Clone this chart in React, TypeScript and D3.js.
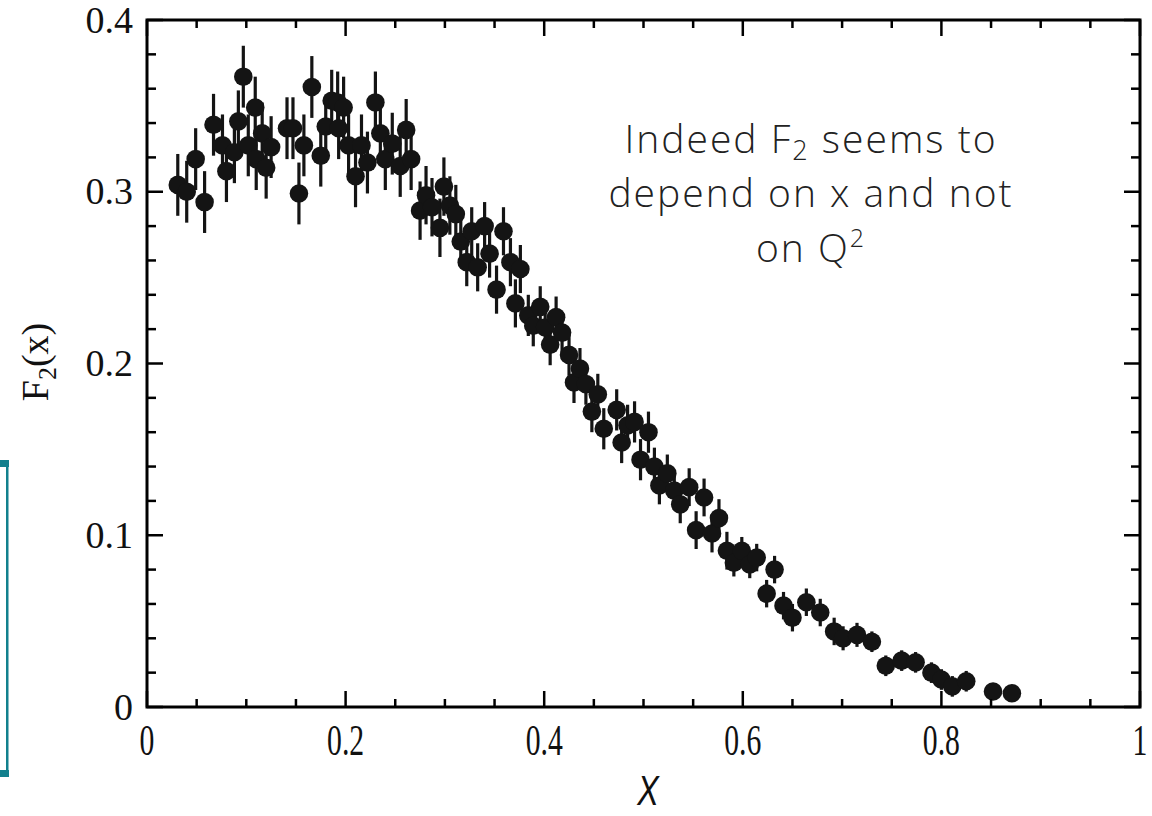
import React from "react";
import * as d3 from "d3";

const xValues = [
  0.031, 0.040, 0.049, 0.058, 0.067, 0.076, 0.080, 0.088, 0.092, 0.097, 0.102, 0.109, 0.110, 0.116, 0.120, 0.125,
  0.141, 0.147, 0.153, 0.158, 0.166, 0.175, 0.180, 0.186, 0.192, 0.193, 0.198, 0.203, 0.210, 0.216, 0.222, 0.230,
  0.235, 0.240, 0.247, 0.255, 0.261, 0.266,
  0.275, 0.281, 0.287, 0.295, 0.299, 0.305, 0.311,
  0.316, 0.322, 0.327, 0.333, 0.340, 0.345, 0.352, 0.359, 0.366, 0.371, 0.376,
  0.384, 0.389, 0.396, 0.401, 0.406, 0.412, 0.418, 0.425, 0.430, 0.436, 0.442, 0.448, 0.454, 0.460, 0.473, 0.478,
  0.484, 0.491, 0.497, 0.505,
  0.511, 0.516, 0.524, 0.531, 0.537, 0.546, 0.553, 0.561, 0.569, 0.576, 0.584,
  0.591, 0.599, 0.607, 0.614, 0.632, 0.624, 0.641, 0.650, 0.664, 0.678, 0.692, 0.701, 0.715,
  0.730, 0.744, 0.760, 0.774, 0.790, 0.800, 0.811, 0.825,
  0.852, 0.871,
];

const f2Values = [
  0.304, 0.300, 0.319, 0.294, 0.339, 0.327, 0.312, 0.323, 0.341, 0.367, 0.327, 0.349, 0.319, 0.334, 0.314, 0.326,
  0.337, 0.337, 0.299, 0.327, 0.361, 0.321, 0.338, 0.353, 0.352, 0.337, 0.349, 0.327, 0.309, 0.327, 0.317, 0.352,
  0.334, 0.319, 0.328, 0.315, 0.336, 0.319,
  0.289, 0.298, 0.291, 0.279, 0.303, 0.292, 0.287,
  0.271, 0.259, 0.277, 0.256, 0.280, 0.264, 0.243, 0.277, 0.259, 0.235, 0.255,
  0.228, 0.222, 0.233, 0.221, 0.211, 0.227, 0.218, 0.205, 0.189, 0.197, 0.188, 0.172, 0.182, 0.162, 0.173, 0.154,
  0.164, 0.166, 0.144, 0.160,
  0.140, 0.129, 0.136, 0.126, 0.118, 0.128, 0.103, 0.122, 0.101, 0.110, 0.091,
  0.084, 0.091, 0.083, 0.087, 0.080, 0.066, 0.059, 0.052, 0.061, 0.055, 0.044, 0.040, 0.042,
  0.038, 0.024, 0.027, 0.026, 0.020, 0.016, 0.012, 0.015,
  0.009, 0.008,
];

const f2Errors = [
  0.018, 0.018, 0.018, 0.018, 0.018, 0.018, 0.018, 0.018, 0.018, 0.018, 0.018, 0.018, 0.018, 0.018, 0.018, 0.018,
  0.018, 0.018, 0.018, 0.018, 0.018, 0.018, 0.018, 0.018, 0.018, 0.018, 0.018, 0.018, 0.018, 0.018, 0.018, 0.018,
  0.018, 0.018, 0.018, 0.018, 0.018, 0.018,
  0.017, 0.017, 0.017, 0.017, 0.017, 0.017, 0.017,
  0.014, 0.014, 0.014, 0.014, 0.014, 0.014, 0.014, 0.014, 0.014, 0.014, 0.014,
  0.012, 0.012, 0.012, 0.012, 0.012, 0.012, 0.012, 0.012, 0.012, 0.012, 0.012, 0.012, 0.012, 0.012, 0.012, 0.012,
  0.012, 0.012, 0.012, 0.012,
  0.011, 0.011, 0.011, 0.011, 0.011, 0.011, 0.011, 0.011, 0.011, 0.011, 0.011,
  0.008, 0.008, 0.008, 0.008, 0.008, 0.008, 0.008, 0.008, 0.008, 0.008, 0.008, 0.007, 0.007,
  0.006, 0.006, 0.006, 0.006, 0.006, 0.006, 0.006, 0.006,
  0.004, 0.004,
];

const xMajorTicks = [0, 0.2, 0.4, 0.6, 0.8, 1];
const xTickLabels = ["0", "0.2", "0.4", "0.6", "0.8", "1"];
const yMajorTicks = [0, 0.1, 0.2, 0.3, 0.4];
const yTickLabels = ["0", "0.1", "0.2", "0.3", "0.4"];

const W = 1152;
const H = 816;

export default function App() {
  const x = d3.scaleLinear().domain([0, 1]).range([147, 1140]);
  const y = d3.scaleLinear().domain([0, 0.4]).range([707, 20]);
  const xMinor = d3.range(0, 1.0001, 0.05).filter((v) => Math.abs(v / 0.2 - Math.round(v / 0.2)) > 1e-6);
  const yMinor = d3.range(0, 0.4001, 0.02).filter((v) => Math.abs(v / 0.1 - Math.round(v / 0.1)) > 1e-6);
  const [x0, x1] = x.range();
  const [y0, y1] = y.range();
  const ink = "#141414";
  const serif = "'Liberation Serif', 'Times New Roman', serif";
  const sans = "'Open Sans', 'Liberation Sans', sans-serif";

  return (
    <div style={{ position: "absolute", left: 0, top: 0, width: W, height: H, background: "#fff" }}>
      <svg width={W} height={H} viewBox={`0 0 ${W} ${H}`} style={{ display: "block" }}>
        <rect x={0} y={0} width={W} height={H} fill="#fff" />
        {/* teal box edge */}
        <g fill="#12808d">
          <rect x={0} y={460} width={9} height={7} />
          <rect x={6} y={460} width={2.5} height={317} />
          <rect x={0} y={770} width={9} height={7} />
        </g>

        {/* data: error bars */}
        <g stroke={ink} strokeWidth={3.2}>
          {xValues.map((xv, i) => (
            <line
              key={"e" + i}
              x1={x(xv)}
              x2={x(xv)}
              y1={y(f2Values[i] - f2Errors[i])}
              y2={y(f2Values[i] + f2Errors[i])}
            />
          ))}
        </g>
        <g fill={ink}>
          {xValues.map((xv, i) => (
            <circle key={"p" + i} cx={x(xv)} cy={y(f2Values[i])} r={9.3} />
          ))}
        </g>

        {/* frame */}
        <rect x={x0} y={y1} width={x1 - x0} height={y0 - y1} fill="none" stroke="#000" strokeWidth={3} />

        {/* ticks */}
        <g stroke="#000" strokeWidth={2.5}>
          {xMajorTicks.map((v) => (
            <g key={"xM" + v}>
              <line x1={x(v)} x2={x(v)} y1={y0} y2={y0 - 16} />
              <line x1={x(v)} x2={x(v)} y1={y1} y2={y1 + 16} />
            </g>
          ))}
          {xMinor.map((v) => (
            <g key={"xm" + v}>
              <line x1={x(v)} x2={x(v)} y1={y0} y2={y0 - 8} />
              <line x1={x(v)} x2={x(v)} y1={y1} y2={y1 + 8} />
            </g>
          ))}
          {yMajorTicks.map((v) => (
            <g key={"yM" + v}>
              <line x1={x0} x2={x0 + 16} y1={y(v)} y2={y(v)} />
              <line x1={x1} x2={x1 - 16} y1={y(v)} y2={y(v)} />
            </g>
          ))}
          {yMinor.map((v) => (
            <g key={"ym" + v}>
              <line x1={x0} x2={x0 + 9} y1={y(v)} y2={y(v)} />
              <line x1={x1} x2={x1 - 9} y1={y(v)} y2={y(v)} />
            </g>
          ))}
        </g>

        {/* y tick labels */}
        <g fontFamily={serif} fontSize={38} fill="#111" textAnchor="end">
          {yMajorTicks.map((v, i) => (
            <text key={"yl" + v} x={133} y={y(v)} dy="0.33em">
              {yTickLabels[i]}
            </text>
          ))}
        </g>
        {/* x tick labels (condensed) */}
        <g fontFamily={serif} fontSize={45} fill="#111" textAnchor="middle">
          {xMajorTicks.map((v, i) => (
            <text key={"xl" + v} transform={`translate(${x(v)},755) scale(0.66,1)`}>
              {xTickLabels[i]}
            </text>
          ))}
        </g>

        {/* axis titles */}
        <text
          transform="translate(648,805) scale(0.85,1.1)"
          fontFamily="'Liberation Sans', Arial, sans-serif"
          fontStyle="italic"
          fontSize={38}
          textAnchor="middle"
          fill="#111"
        >
          X
        </text>
        <text
          transform="translate(48,362) rotate(-90)"
          fontFamily={serif}
          fontSize={38}
          textAnchor="middle"
          fill="#111"
        >
          F<tspan fontSize={26} dy={8}>2</tspan>
          <tspan dy={-8}>(x)</tspan>
        </text>

        {/* annotation */}
        <g fontFamily={sans} fontWeight={300} fontSize={39} letterSpacing={2} fill="#222" textAnchor="middle">
          <text x={811} y={153}>
            Indeed F<tspan fontSize={27} dy={7}>2</tspan>
            <tspan dy={-7}> seems to</tspan>
          </text>
          <text x={811} y={207}>depend on x and not</text>
          <text x={811} y={262}>
            on Q<tspan fontSize={25} dy={-15}>2</tspan>
          </text>
        </g>
      </svg>
    </div>
  );
}
